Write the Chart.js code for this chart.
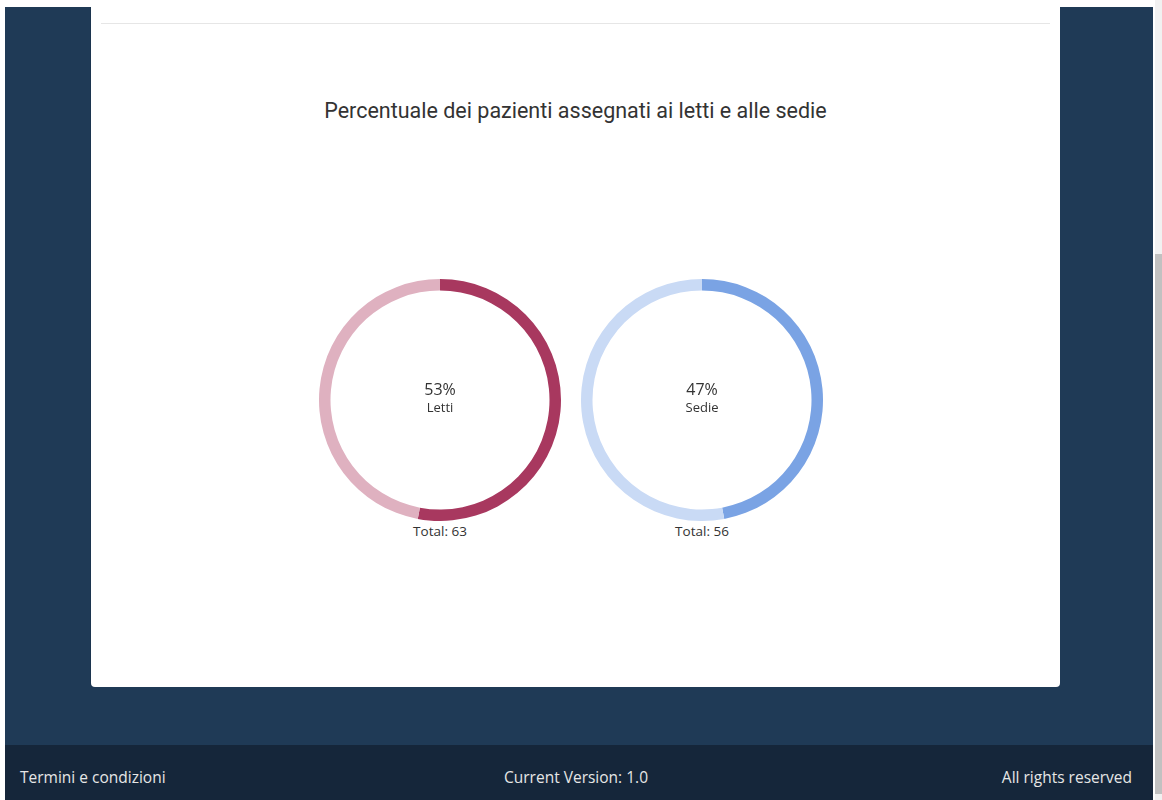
<!DOCTYPE html>
<html lang="it">
<head>
<meta charset="utf-8">
<title>Percentuale dei pazienti</title>
<script src="https://cdn.jsdelivr.net/npm/chart.js@4.4.1/dist/chart.umd.min.js"></script>
<style>
  html, body { margin: 0; padding: 0; width: 1162px; height: 800px; overflow: hidden; background: #ffffff; }
  #page { position: absolute; left: 5px; top: 7px; width: 1148px; height: 793px; background: #1f3a56; }
  #footer { position: absolute; left: 5px; top: 745px; width: 1148px; height: 55px; background: #15263a;
            font-family: "Open Sans", sans-serif; font-size: 15.5px; color: #e6e6e6; }
  #footer span { position: absolute; top: 22px; line-height: 20px; white-space: nowrap; }
  #scroll-track { position: absolute; left: 1155px; top: 0; width: 7px; height: 800px; background: #f1f1f1; }
  #scroll-thumb { position: absolute; left: 1155px; top: 254px; width: 7px; height: 540px; background: #c1c1c1; }
  #card { position: absolute; left: 91px; top: 7px; width: 969px; height: 680px; background: #ffffff;
          border-radius: 0 0 4px 4px; box-shadow: -1px 0 0 rgba(0,0,0,0.08); }
  #rule { position: absolute; left: 10px; top: 16px; width: 949px; height: 1px; background: #e6e6e6; }
  #title { position: absolute; left: 0; top: 91px; width: 969px; text-align: center;
           font-family: Roboto, sans-serif; font-size: 21.5px; line-height: 26px; color: #333333; }
  .donut { position: absolute; width: 242px; height: 242px; }
  .centre { position: absolute; width: 160px; text-align: center; font-family: "Open Sans", sans-serif; color: #333333; }
  .pct { font-size: 16px; line-height: 18px; }
  .lbl { font-size: 13px; line-height: 14px; margin-top: 2px; }
  .total { position: absolute; width: 160px; text-align: center; font-family: "Open Sans", sans-serif;
           font-size: 13.5px; line-height: 16px; color: #333333; }
</style>
</head>
<body>
<div id="page"></div>
<div id="footer">
  <span style="left:15px">Termini e condizioni</span>
  <span id="version" style="left:0; width:1142px; text-align:center">Current Version: 1.0</span>
  <span style="right:21px">All rights reserved</span>
</div>
<div id="scroll-track"></div>
<div id="scroll-thumb"></div>
<div id="card">
  <div id="rule"></div>
  <div id="title">Percentuale dei pazienti assegnati ai letti e alle sedie</div>
</div>
<script>
// Patient counts per placement type
const categories = ["Letti", "Sedie"];
const patientCounts = [63, 56];
const darkColors = ["#a8385f", "#7aa3e4"];
const lightColors = ["#dfb1c0", "#c9daf5"];

// Donut centres on the page (x, y)
const centres = [[440, 400], [702, 400]];

const grandTotal = patientCounts.reduce((a, b) => a + b, 0);

categories.forEach((name, i) => {
  const count = patientCounts[i];
  const rest = grandTotal - count;
  const [cx, cy] = centres[i];

  const canvas = document.createElement("canvas");
  canvas.className = "donut";
  canvas.style.left = (cx - 121) + "px";
  canvas.style.top = (cy - 121) + "px";
  canvas.width = 242;
  canvas.height = 242;
  document.body.appendChild(canvas);

  new Chart(canvas, {
    type: "doughnut",
    data: {
      labels: [name, "Altro"],
      datasets: [{
        data: [count, rest],
        backgroundColor: [darkColors[i], lightColors[i]],
        borderWidth: 0
      }]
    },
    options: {
      responsive: false,
      animation: false,
      cutout: "90.5%",
      events: [],
      plugins: { legend: { display: false }, tooltip: { enabled: false } }
    }
  });

  const pct = Math.round(count / grandTotal * 100);
  const centre = document.createElement("div");
  centre.className = "centre";
  centre.style.left = (cx - 80) + "px";
  centre.style.top = (cy - 20) + "px";
  centre.innerHTML = '<div class="pct">' + pct + '%</div><div class="lbl">' + name + '</div>';
  document.body.appendChild(centre);

  const total = document.createElement("div");
  total.className = "total";
  total.style.left = (cx - 80) + "px";
  total.style.top = (cy + 123) + "px";
  total.textContent = "Total: " + count;
  document.body.appendChild(total);
});
</script>
</body>
</html>
